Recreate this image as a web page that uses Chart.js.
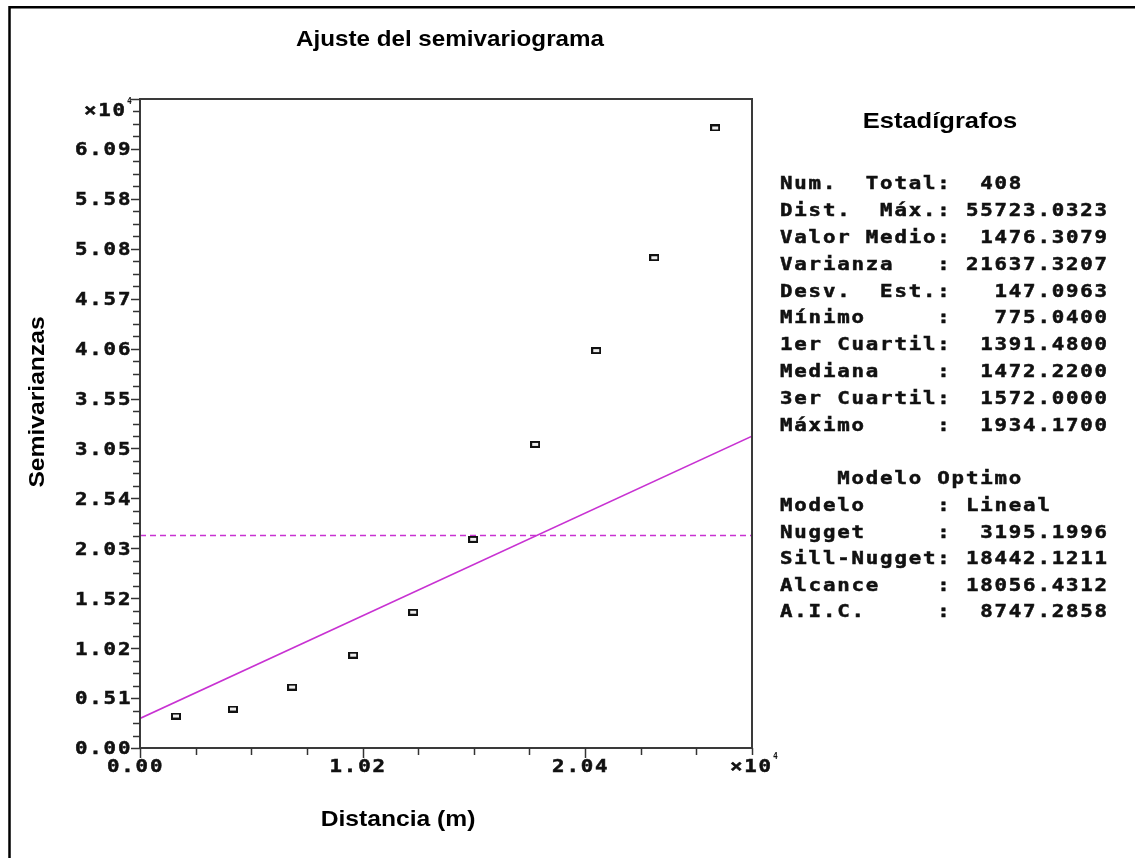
<!DOCTYPE html>
<html lang="es">
<head>
    <meta charset="UTF-8">
    <title>Ajuste del semivariograma</title>
    <style>
        body { margin: 0; background: #fff; }
        #wrap { width: 1135px; height: 858px; position: relative; }
    </style>
    <script src="https://cdn.jsdelivr.net/npm/chart.js"></script>
</head>
<body>
    <div id="wrap"><canvas id="semi"></canvas></div>

    <script>
        // experimental semivariogram (x10^4)
        const lagDist = [0.165, 0.426, 0.697, 0.977, 1.252, 1.527, 1.811, 2.091, 2.357, 2.636];
        const semiVar = [0.325, 0.396, 0.619, 0.944, 1.380, 2.121, 3.086, 4.040, 4.984, 6.303];
        // linear model and sill
        const modelX = [0, 2.805];
        const modelY = [0.30, 3.17];
        const sillY = 2.16;

        const xMax = 2.805, xStep = 0.255;
        const yMax = 6.5975, yStep = 0.126875;
        const xLabels = ['0.00', '1.02', '2.04'];
        const xLabelVals = [0, 1.02, 2.04];
        const yLabels = ['0.00', '0.51', '1.02', '1.52', '2.03', '2.54', '3.05', '3.55', '4.06', '4.57', '5.08', '5.58', '6.09'];

        const statsRows = [
            'Num.  Total:  408',
            'Dist.  Máx.: 55723.0323',
            'Valor Medio:  1476.3079',
            'Varianza   : 21637.3207',
            'Desv.  Est.:   147.0963',
            'Mínimo     :   775.0400',
            '1er Cuartil:  1391.4800',
            'Mediana    :  1472.2200',
            '3er Cuartil:  1572.0000',
            'Máximo     :  1934.1700'
        ];
        const modelRows = [
            '    Modelo Optimo',
            'Modelo     : Lineal',
            'Nugget     :  3195.1996',
            'Sill-Nugget: 18442.1211',
            'Alcance    : 18056.4312',
            'A.I.C.     :  8747.2858'
        ];

        const MAG = '#c832d2';
        const MONO = 'bold 17px "DejaVu Sans Mono"';
        const PITCH = 14.3;

        // small hollow box marker
        const marker = document.createElement('canvas');
        marker.width = 10; marker.height = 7;
        (function () {
            const c = marker.getContext('2d');
            c.fillStyle = '#eeeeee';
            c.fillRect(1, 1, 8, 5);
            c.strokeStyle = '#111';
            c.lineWidth = 2;
            c.strokeRect(1, 1, 8, 5);
        })();

        function drawMono(ctx, text, x, y) {
            ctx.save();
            ctx.font = MONO;
            ctx.textAlign = 'left';
            ctx.textBaseline = 'middle';
            ctx.fillStyle = '#111';
            ctx.strokeStyle = '#111';
            ctx.lineWidth = 0.5;
            for (let i = 0; i < text.length; i++) {
                const ch = text[i];
                if (ch === ' ') continue;
                ctx.save();
                ctx.translate(x + i * PITCH, y);
                ctx.scale(1.22, 1);
                ctx.fillText(ch, 0, 0);
                ctx.strokeText(ch, 0, 0);
                ctx.restore();
            }
            ctx.restore();
        }

        function drawWide(ctx, text, x, y, sx) {
            ctx.save();
            ctx.translate(x, y);
            ctx.scale(sx, 1);
            ctx.fillText(text, 0, 0);
            ctx.restore();
        }

        const decor = {
            id: 'decor',
            afterDraw(chart) {
                const ctx = chart.ctx;
                const a = chart.chartArea;
                const xs = chart.scales.x, ys = chart.scales.y;
                ctx.save();

                // outer frame (top and left visible)
                ctx.strokeStyle = '#000';
                ctx.lineWidth = 2.5;
                ctx.beginPath();
                ctx.moveTo(9.5, 858);
                ctx.lineTo(9.5, 7.3);
                ctx.lineTo(1135, 7.3);
                ctx.stroke();

                // plot box
                ctx.strokeStyle = '#3a3a3a';
                ctx.lineWidth = 2;
                ctx.strokeRect(a.left, a.top, a.right - a.left, a.bottom - a.top);

                // y ticks
                ctx.lineWidth = 1.5;
                ctx.strokeStyle = '#333';
                const ny = Math.round(yMax / yStep);
                for (let i = 0; i <= ny; i++) {
                    const py = Math.round(ys.getPixelForValue(i * yStep)) + 0.5;
                    const len = i % 4 === 0 ? 9 : 7;
                    ctx.beginPath();
                    ctx.moveTo(a.left - len, py);
                    ctx.lineTo(a.left, py);
                    ctx.stroke();
                }
                // x ticks
                const nx = Math.round(xMax / xStep);
                for (let i = 0; i <= nx; i++) {
                    const px = Math.round(xs.getPixelForValue(i * xStep)) + 0.5;
                    const len = i % 4 === 0 ? 10 : 7;
                    ctx.beginPath();
                    ctx.moveTo(px, a.bottom);
                    ctx.lineTo(px, a.bottom + len);
                    ctx.stroke();
                }

                // tick labels
                yLabels.forEach((lab, i) => {
                    const py = ys.getPixelForValue(i * 4 * yStep);
                    drawMono(ctx, lab, 75, py + 2);
                });
                xLabels.forEach((lab, i) => {
                    const px = xs.getPixelForValue(xLabelVals[i]);
                    drawMono(ctx, lab, px - 33, a.bottom + 20);
                });

                // exponent marks
                drawMono(ctx, '×10', 84, 112);
                drawMono(ctx, '×10', 730, 768);
                ctx.font = 'bold 8px "DejaVu Sans Mono"';
                ctx.fillStyle = '#111';
                ctx.textBaseline = 'middle';
                ctx.fillText('4', 127, 102);
                ctx.fillText('4', 773, 757);

                // titles
                ctx.fillStyle = '#000';
                ctx.font = 'bold 22px "Liberation Sans", Arial';
                ctx.textAlign = 'center';
                ctx.textBaseline = 'middle';
                drawWide(ctx, 'Ajuste del semivariograma', 450, 40, 1.1);
                drawWide(ctx, 'Estadígrafos', 940, 122, 1.16);
                drawWide(ctx, 'Distancia (m)', 398, 820, 1.12);
                ctx.save();
                ctx.translate(38, 402);
                ctx.rotate(-Math.PI / 2);
                drawWide(ctx, 'Semivarianzas', 0, 0, 1.12);
                ctx.restore();

                // statistics panel
                statsRows.forEach((row, i) => drawMono(ctx, row, 780, 185 + i * 26.8));
                modelRows.forEach((row, i) => drawMono(ctx, row, 780, 480 + i * 26.6));

                ctx.restore();
            }
        };

        new Chart(document.getElementById('semi'), {
            type: 'scatter',
            data: {
                datasets: [
                    {
                        label: 'Modelo',
                        data: modelX.map((x, i) => ({ x: x, y: modelY[i] })),
                        showLine: true,
                        borderColor: MAG,
                        borderWidth: 1.6,
                        pointRadius: 0,
                        order: 2
                    },
                    {
                        label: 'Meseta',
                        data: [{ x: 0, y: sillY }, { x: xMax, y: sillY }],
                        showLine: true,
                        borderColor: MAG,
                        borderWidth: 1.4,
                        borderDash: [6, 4],
                        pointRadius: 0,
                        order: 3
                    },
                    {
                        label: 'Semivarianzas',
                        data: lagDist.map((x, i) => ({ x: x, y: semiVar[i] })),
                        pointStyle: marker,
                        order: 1
                    }
                ]
            },
            options: {
                responsive: true,
                maintainAspectRatio: false,
                animation: false,
                layout: { padding: { left: 140, top: 99, right: 383, bottom: 110 } },
                plugins: {
                    legend: { display: false },
                    tooltip: { enabled: false }
                },
                scales: {
                    x: { type: 'linear', min: 0, max: xMax, display: false },
                    y: { type: 'linear', min: 0, max: yMax, display: false }
                }
            },
            plugins: [decor]
        });
    </script>
</body>
</html>
